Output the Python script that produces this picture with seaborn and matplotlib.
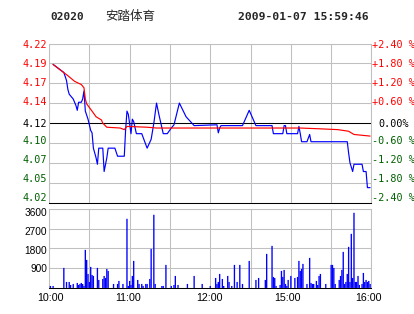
import matplotlib
matplotlib.use("Agg")
import matplotlib.pyplot as plt
import seaborn as sns
import numpy as np

# ---------------- data ----------------
stock_code = "02020"
stock_name = "安踏体育"
timestamp = "2009-01-07 15:59:46"
prev_close = 4.12

price_minutes = [3, 11, 13, 14, 15, 18, 20, 21, 22, 24, 25, 26, 27, 29, 30, 31, 32, 33, 35, 36, 37,
                 40, 41, 43, 44, 49, 51, 56, 57, 58, 59, 61, 62, 63, 65, 69, 73, 76, 78, 80, 82,
                 85, 88, 91, 93, 97, 102, 108, 125, 126, 127, 128, 144, 149, 154, 166, 167, 174,
                 175, 176, 177, 185, 186, 187, 188, 192, 194, 195, 222, 223, 224, 226, 227, 233,
                 234, 236, 237, 239]
price_values = [4.193, 4.183, 4.173, 4.162, 4.156, 4.150, 4.142, 4.136, 4.146, 4.146, 4.150, 4.160,
                4.135, 4.125, 4.118, 4.111, 4.108, 4.089, 4.077, 4.069, 4.089, 4.089, 4.060, 4.077,
                4.089, 4.089, 4.079, 4.079, 4.112, 4.135, 4.131, 4.107, 4.125, 4.122, 4.107, 4.107,
                4.089, 4.100, 4.120, 4.145, 4.129, 4.107, 4.107, 4.114, 4.118, 4.145, 4.128, 4.117,
                4.118, 4.108, 4.114, 4.117, 4.117, 4.136, 4.117, 4.117, 4.107, 4.107, 4.117, 4.117,
                4.107, 4.107, 4.116, 4.107, 4.097, 4.097, 4.106, 4.097, 4.097, 4.083, 4.071, 4.060,
                4.069, 4.069, 4.060, 4.060, 4.040, 4.040]

avg_minutes = [3, 10, 14, 19, 24, 26, 27, 28, 32, 35, 39, 40, 43, 53, 56, 58, 73, 80, 187, 202,
               215, 223, 227, 239]
avg_values = [4.193, 4.184, 4.179, 4.172, 4.168, 4.164, 4.150, 4.144, 4.135, 4.128, 4.124, 4.120,
              4.115, 4.114, 4.112, 4.116, 4.115, 4.114, 4.114, 4.113, 4.112, 4.110, 4.106, 4.104]

vol_minutes = [1, 3, 11, 13, 15, 16, 18, 21, 22, 23, 24, 25, 26, 27, 28, 29, 30, 31, 32, 33, 36, 37,
               40, 41, 42, 43, 44, 48, 51, 52, 55, 58, 59, 60, 61, 62, 63, 66, 67, 69, 70, 72, 73,
               75, 76, 78, 79, 84, 85, 87, 91, 93, 94, 96, 103, 108, 114, 120, 124, 125, 126, 127,
               129, 130, 133, 134, 136, 138, 140, 142, 144, 149, 154, 156, 161, 162, 166, 167, 168,
               169, 172, 173, 174, 175, 176, 177, 178, 180, 183, 185, 186, 187, 188, 189, 192, 194,
               195, 196, 197, 199, 200, 201, 202, 206, 210, 211, 212, 213, 216, 217, 218, 219, 220,
               221, 222, 223, 224, 225, 226, 227, 228, 229, 230, 231, 233, 234, 235, 236, 237, 238,
               239]
vol_values = [91, 91, 912, 274, 274, 137, 182, 228, 137, 182, 228, 182, 91, 1733, 1277, 638, 274,
              958, 593, 547, 912, 365, 410, 547, 456, 866, 775, 182, 182, 319, 182, 3146, 91, 319,
              137, 547, 1231, 365, 182, 182, 91, 182, 182, 410, 1778, 3329, 182, 91, 91, 1049, 91,
              137, 547, 137, 182, 547, 182, 91, 456, 182, 274, 638, 410, 91, 547, 274, 91, 1049,
              274, 1049, 182, 1231, 365, 456, 365, 1550, 1915, 502, 456, 91, 137, 775, 502, 821,
              182, 91, 365, 547, 456, 502, 1231, 775, 866, 1094, 182, 1368, 228, 182, 182, 319,
              137, 547, 638, 182, 1049, 1049, 912, 182, 365, 547, 821, 1642, 182, 274, 638, 1870,
              274, 2462, 456, 3420, 274, 274, 547, 137, 182, 684, 274, 365, 274, 319, 182]

pct_ticks = [2.4, 1.8, 1.2, 0.6, 0.0, -0.6, -1.2, -1.8, -2.4]
left_labels = ["4.22", "4.19", "4.17", "4.14", "4.12", "4.10", "4.07", "4.05", "4.02"]
right_labels = ["+2.40 %", "+1.80 %", "+1.20 %", "+0.60 %", "0.00%",
                "-0.60 %", "-1.20 %", "-1.80 %", "-2.40 %"]
vol_ticks = [3600, 2700, 1800, 900]
time_labels = ["10:00", "11:00", "12:00", "15:00", "16:00"]
time_ticks = [0, 60, 120, 180, 240]

# ---------------- style ----------------
sns.set_theme(style="white")
plt.rcParams['font.family'] = ['DejaVu Sans Mono', 'Noto Sans CJK SC']

W, H = 414, 314
fig = plt.figure(figsize=((W + 0.5) / 100, (H + 0.5) / 100), dpi=100)
fig.patch.set_facecolor("white")


def rect(x0, y0, x1, y1):
    return [x0 / W, 1 - y1 / H, (x1 - x0) / W, (y1 - y0) / H]


GRID = "#c0c0c0"
LW = 0.75
RED = "#ff0000"
GREEN = "#006000"
BLUE = "#0000ff"

ax = fig.add_axes(rect(49, 44, 371, 203))
axv = fig.add_axes(rect(49, 209, 371, 288))

lo, hi = prev_close * (1 - 0.024), prev_close * (1 + 0.024)
for a in (ax, axv):
    a.set_xlim(0, 240)
    a.set_xticks(np.arange(0, 241, 30))
    a.tick_params(length=0, labelbottom=False, labelleft=False)
    a.grid(True, color=GRID, lw=LW)
    a.set_facecolor("white")
    for s in a.spines.values():
        s.set_color(GRID)
        s.set_linewidth(LW)
    a.spines['bottom'].set_color("black")
    a.set_axisbelow(True)

# price panel
ax.set_ylim(lo, hi)
ax.set_yticks([prev_close * (1 + p / 100) for p in pct_ticks])
ax.axhline(prev_close, color="black", lw=LW, zorder=2)

sns.lineplot(x=price_minutes, y=price_values, ax=ax, color=BLUE, lw=0.85,
             estimator=None, sort=False, zorder=3)
sns.lineplot(x=avg_minutes, y=avg_values, ax=ax, color=RED, lw=0.85,
             estimator=None, sort=False, zorder=4)
ax.set_xlim(0, 240)
ax.set_xlabel("")
ax.set_ylabel("")

# volume panel
axv.set_ylim(0, 3600)
axv.set_yticks([0, 900, 1800, 2700, 3600])
bars = axv.bar(vol_minutes, vol_values, width=1.0, color=BLUE, edgecolor="none",
               linewidth=0, antialiased=True, zorder=3)
for b in bars:
    b.set_snap(False)
axv.set_xlim(0, 240)

# ---------------- text ----------------
def ftext(x, y, s, **kw):
    fig.text(x / W, 1 - y / H, s, **kw)

# header
ftext(50, 17, stock_code, fontsize=8, fontweight="bold", va="center", ha="left",
      family=["DejaVu Sans Mono"])
ftext(105, 16.5, stock_name, fontsize=9, va="center", ha="left",
      family=["Noto Sans CJK SC"])
ftext(237.5, 17, timestamp, fontsize=8.2, fontweight="bold", va="center", ha="left",
      family=["DejaVu Sans Mono"])

# price axis labels
for i, (ll, rl) in enumerate(zip(left_labels, right_labels)):
    y = 45 + i * 19.1
    if i == 4:
        y = 124
    col = RED if i < 4 else ("black" if i == 4 else GREEN)
    ftext(47, y, ll, fontsize=7.3, color=col, va="center", ha="right",
          family=["DejaVu Sans Mono"])
    rx = 371.5 if i != 4 else 377.5
    ftext(rx, y, rl, fontsize=7.3, color=col, va="center", ha="left",
          family=["DejaVu Sans Mono"])

# volume labels
for v, y in zip(vol_ticks, [213, 231.5, 251, 269]):
    ftext(47, y, str(v), fontsize=7.3, color="black", va="center", ha="right",
          family=["Liberation Sans"])

# time labels
for lab, xp in zip(time_labels, [50, 128, 209, 287, 368]):
    ftext(xp, 298, lab, fontsize=7.7, color="black", va="center", ha="center",
          family=["Liberation Sans"])

fig.savefig("out.png", dpi=100, facecolor="white")
